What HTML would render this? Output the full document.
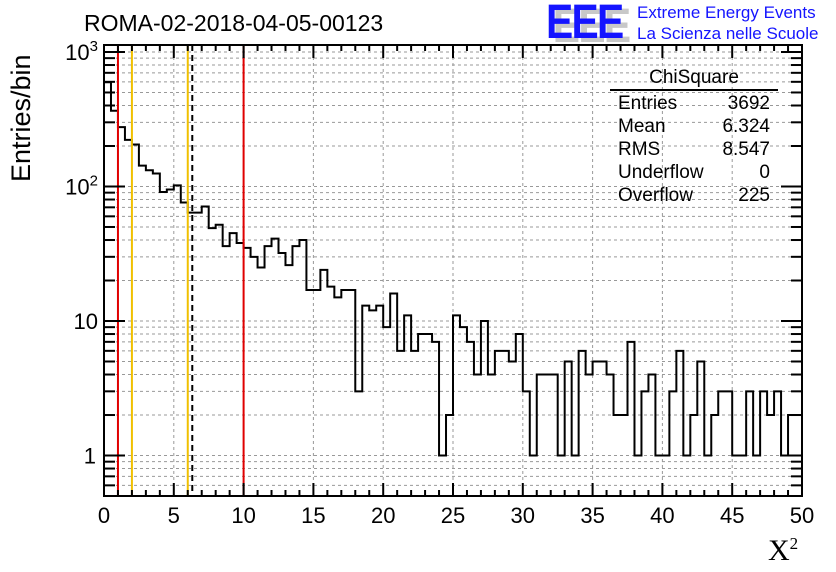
<!DOCTYPE html>
<html><head><meta charset="utf-8"><style>
body{margin:0;background:#fff;}
svg{display:block;font-family:"Liberation Sans",sans-serif;}
</style></head><body>
<svg id="c" width="836" height="572"></svg>
<script>
const counts=[596,366,276,222,205,143,132,125,91,95,102,76,64,64,71,49,52,36,45,38,35,30,25,36,41,32,26,36,40,17,17,24,18,15,17,17,3,13,12,13,9,16,6,11,6,8,8,7,1,2,11,9,7,4,10,4,6,6,5,8,3,1,4,4,4,1,5,1,6,4,5,5,4,2,2,7,1,3,4,1,1,3,6,1,2,5,1,2,3,3,1,1,3,1,3,2,3,1,2,2];
const xTicks=[0,5,10,15,20,25,30,35,40,45,50];
const yTickLabels=["1","10","10²","10³"];
const yTickValues=[1,10,100,1000];
const refLines=[{v:1,c:"#e00000",d:""},{v:10,c:"#e00000",d:""},{v:2,c:"#f0c000",d:""},{v:6,c:"#f0c000",d:""},{v:6.324,c:"#000",d:"6,4"}];

const L=104,R=802,T=45,B=496,XMAX=50,YMIN=0.5,YMAX=1127;
const sx=v=>L+(v/XMAX)*(R-L);
const sy=v=>B-(Math.log10(v)-Math.log10(YMIN))/(Math.log10(YMAX)-Math.log10(YMIN))*(B-T);
const svg=document.getElementById('c');
const NS="http://www.w3.org/2000/svg";
function mk(t,a,p){const e=document.createElementNS(NS,t);for(const k in a)e.setAttribute(k,a[k]);(p||svg).appendChild(e);return e;}

const grid=mk('g',{stroke:"#999","stroke-width":1,"stroke-dasharray":"3,3"});


for(let i=5;i<50;i+=5)mk('line',{x1:sx(i),x2:sx(i),y1:T,y2:B},grid);
for(let d=-1;d<=3;d++)for(let m=1;m<10;m++){const v=m*Math.pow(10,d);if(v<YMIN||v>YMAX)continue;const y=sy(v);if(y>=B-1||y<=T+1)continue;mk('line',{x1:L,x2:R,y1:y,y2:y},grid);}

const bw=XMAX/counts.length;
let d=`M${sx(0)},${B}`;
counts.forEach((c,i)=>{const y=sy(c);d+=` L${sx(i*bw)},${y} L${sx((i+1)*bw)},${y}`;});
d+=` L${sx(XMAX)},${B}`;
const h=mk('path',{d:d,fill:"none",stroke:"#000","stroke-width":2});



refLines.forEach(r=>{const l=mk('line',{x1:sx(r.v),x2:sx(r.v),y1:T,y2:B,stroke:r.c,"stroke-width":2});if(r.d)l.setAttribute('stroke-dasharray',r.d);

});

const fr=mk('rect',{x:L,y:T,width:R-L,height:B-T,fill:"none",stroke:"#000","stroke-width":2});



const ax=mk('g',{stroke:"#000","stroke-width":2});


for(let i=0;i<=50;i++){const len=i%5===0?13:6;const x=sx(i);mk('line',{x1:x,x2:x,y1:B,y2:B-len},ax);mk('line',{x1:x,x2:x,y1:T,y2:T+len},ax);}
xTicks.forEach(v=>{const t=mk('text',{x:sx(v),y:523,"font-size":22,"text-anchor":"middle",fill:"#000"});t.textContent=v;

});

const ay=mk('g',{stroke:"#000","stroke-width":2});


for(let dd=-1;dd<=3;dd++)for(let m=1;m<10;m++){const v=m*Math.pow(10,dd);if(v<YMIN||v>YMAX)continue;const y=sy(v);const len=m===1?21:11;mk('line',{x1:L,x2:L+len,y1:y,y2:y},ay);mk('line',{x1:R,x2:R-len,y1:y,y2:y},ay);}
yTickValues.forEach((v,i)=>{const t=mk('text',{x:i==0?96:98,y:sy(v)+8,"font-size":22,"text-anchor":"end",fill:"#000"});


if(i<2)t.textContent=yTickLabels[i];else{t.textContent="10";const s=mk('tspan',{dy:-9,"font-size":15},t);s.textContent=String(i);}});
</script>
<div style="position:absolute;left:0;top:0;width:836px;height:572px;font-family:'Liberation Sans',sans-serif;pointer-events:none">
<div style="position:absolute;left:84px;top:10px;font-size:23px;">ROMA-02-2018-04-05-00123</div>
<div style="position:absolute;left:6px;top:182px;font-size:27px;transform:rotate(-90deg);transform-origin:0 0;white-space:nowrap">Entries/bin</div>
<div style="position:absolute;left:768px;top:534px;font-size:30px;font-family:'Liberation Serif',serif">X<sup style="font-size:17px">2</sup></div>
<div style="position:absolute;left:546px;top:2px;font-size:48px;font-weight:bold;line-height:42px;letter-spacing:-2px;transform:scaleX(0.85);transform-origin:0 0">
<span style="position:absolute;left:8px;top:4px;color:#c8c8c8">EEE</span><span style="position:absolute;left:0;top:0;color:#1414ff">EEE</span></div>
<div style="position:absolute;left:637px;top:2px;font-size:17px;color:#1414ff;line-height:21px">Extreme Energy Events<br>La Scienza nelle Scuole</div>
<div style="position:absolute;left:610px;top:67px;width:168px;font-size:19px;">
<div style="text-align:center;border-bottom:2px solid #000;height:22px;line-height:22px">ChiSquare</div>
</div>
<div style="position:absolute;left:618px;top:92px;width:152px;font-size:19px;line-height:23px">
<div style="display:flex;justify-content:space-between"><span>Entries</span><span>3692</span></div>
<div style="display:flex;justify-content:space-between"><span>Mean</span><span>6.324</span></div>
<div style="display:flex;justify-content:space-between"><span>RMS</span><span>8.547</span></div>
<div style="display:flex;justify-content:space-between"><span>Underflow</span><span>0</span></div>
<div style="display:flex;justify-content:space-between"><span>Overflow</span><span>225</span></div>
</div>
</div>
</body></html>
